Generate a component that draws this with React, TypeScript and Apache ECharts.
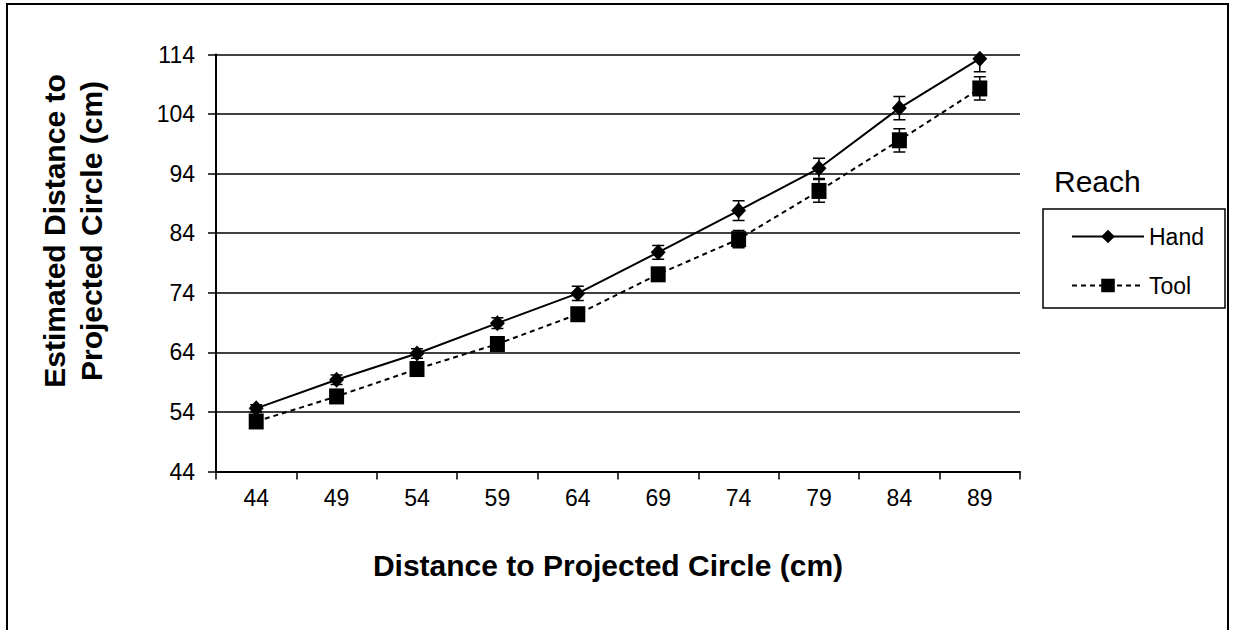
import React, { useEffect, useRef } from "react";
import * as echarts from "echarts";

const categories = ["44", "49", "54", "59", "64", "69", "74", "79", "84", "89"];
const handMeans = [54.6, 59.4, 63.8, 68.9, 73.9, 80.8, 87.8, 94.9, 105.0, 113.3];
const toolMeans = [52.4, 56.6, 61.2, 65.4, 70.4, 77.1, 83.0, 91.1, 99.6, 108.3];
const handErr = [0.6, 0.8, 0.8, 0.9, 1.2, 1.15, 1.65, 1.7, 1.95, 2.2];
const toolErr = [0.8, 0.8, 0.9, 0.9, 1.0, 1.1, 1.45, 1.9, 1.95, 1.95];
const yMin = 44;
const yMax = 114;
const yStep = 10;

const FONT = "'Liberation Sans', Arial, sans-serif";

function errData(means: number[], errs: number[]) {
  return means.map((m, i) => [i, m - errs[i], m + errs[i]]);
}

function renderErr(params: any, api: any) {
  const x = api.value(0);
  const lo = api.coord([x, api.value(1)]);
  const hi = api.coord([x, api.value(2)]);
  const hw = 6;
  const style = { stroke: "#000", lineWidth: 1.5 };
  return {
    type: "group",
    children: [
      { type: "line", shape: { x1: lo[0], y1: lo[1], x2: hi[0], y2: hi[1] }, style },
      { type: "line", shape: { x1: lo[0] - hw, y1: lo[1], x2: lo[0] + hw, y2: lo[1] }, style },
      { type: "line", shape: { x1: hi[0] - hw, y1: hi[1], x2: hi[0] + hw, y2: hi[1] }, style },
    ],
  };
}

export default function App() {
  const ref = useRef<HTMLDivElement>(null);
  useEffect(() => {
    if (!ref.current) return;
    const chart = echarts.init(ref.current, undefined, { renderer: "svg" });
    chart.setOption({
      animation: false,
      backgroundColor: "#fff",
      textStyle: { fontFamily: FONT, color: "#000" },
      grid: { left: 216, right: 213, top: 54.5, bottom: 158.5, containLabel: false },
      xAxis: {
        type: "category",
        data: categories,
        boundaryGap: true,
        axisLine: { lineStyle: { color: "#000", width: 2 } },
        axisTick: { show: true, length: 8, interval: 0, alignWithLabel: false, lineStyle: { color: "#000", width: 1.5 } },
        axisLabel: { fontSize: 23, color: "#000", margin: 15, fontFamily: FONT, interval: 0 },
        splitLine: { show: false },
      },
      yAxis: {
        type: "value",
        min: yMin,
        max: yMax,
        interval: yStep,
        axisLine: { show: true, lineStyle: { color: "#000", width: 2 } },
        axisTick: { show: true, length: 8, lineStyle: { color: "#000", width: 1.5 } },
        axisLabel: { fontSize: 23, color: "#000", margin: 21, fontFamily: FONT },
        splitLine: { show: true, lineStyle: { color: "#000", width: 1.5 } },
      },
      legend: {
        orient: "vertical",
        left: 1066,
        top: 220,
        itemWidth: 72,
        itemHeight: 17,
        itemGap: 26,
        data: ["Hand", "Tool"],
        textStyle: { fontSize: 23, color: "#000", fontFamily: FONT },
      },
      series: [
        {
          name: "HandErr",
          type: "custom",
          renderItem: renderErr,
          data: errData(handMeans, handErr),
          encode: { x: 0, y: [1, 2] },
          clip: true,
          z: 1,
        },
        {
          name: "ToolErr",
          type: "custom",
          renderItem: renderErr,
          data: errData(toolMeans, toolErr),
          encode: { x: 0, y: [1, 2] },
          clip: true,
          z: 1,
        },
        {
          name: "Hand",
          type: "line",
          data: handMeans,
          symbol: "diamond",
          symbolSize: [15, 16],
          itemStyle: { color: "#000" },
          lineStyle: { color: "#000", width: 2, type: "solid" },
          z: 3,
        },
        {
          name: "Tool",
          type: "line",
          data: toolMeans,
          symbol: "rect",
          symbolSize: [15, 16],
          itemStyle: { color: "#000" },
          lineStyle: { color: "#000", width: 2, type: [5, 4] },
          z: 3,
        },
      ],
      graphic: [
        {
          type: "rect",
          shape: { x: 7, y: 4, width: 1221, height: 700 },
          style: { fill: "none", stroke: "#000", lineWidth: 2 },
          silent: true,
        },
        {
          type: "rect",
          shape: { x: 1043, y: 209, width: 182, height: 99 },
          style: { fill: "none", stroke: "#000", lineWidth: 1.5 },
          silent: true,
        },
        {
          type: "text",
          x: 1054,
          y: 196,
          style: { text: "Reach", font: `30px ${FONT}`, fill: "#000", textAlign: "left", textVerticalAlign: "bottom" },
        },
        {
          type: "text",
          x: 608,
          y: 565,
          style: { text: "Distance to Projected Circle (cm)", font: `bold 30px ${FONT}`, fill: "#000", textAlign: "center", textVerticalAlign: "middle" },
        },
        {
          type: "text",
          x: 73,
          y: 231,
          rotation: Math.PI / 2,
          style: {
            text: "Estimated Distance to\nProjected Circle (cm)",
            font: `bold 30px ${FONT}`,
            lineHeight: 37,
            fill: "#000",
            textAlign: "center",
            textVerticalAlign: "middle",
          },
        },
      ],
    });
    return () => chart.dispose();
  }, []);
  return (
    <div
      ref={ref}
      style={{ position: "absolute", left: 0, top: 0, width: 1233, height: 630, background: "#fff" }}
    />
  );
}
